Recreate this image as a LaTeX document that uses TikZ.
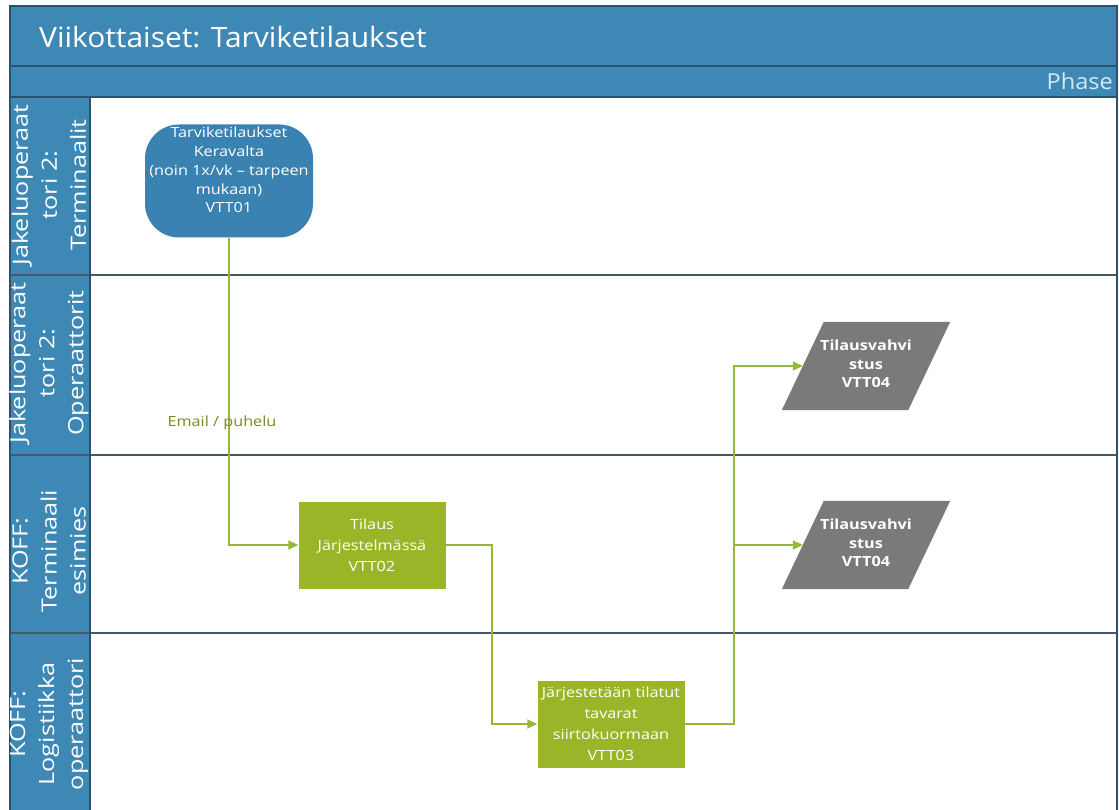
\documentclass[tikz,border=0pt]{standalone}
\usepackage{fontspec}
\setmainfont{Open Sans}
\newfontfamily\nodefont[FakeStretch=1.16]{Open Sans}
\newfontfamily\lanefont[FakeStretch=1.2]{Open Sans}
\newfontfamily\titlefont[FakeStretch=1.07]{Open Sans}
\usetikzlibrary{arrows.meta,calc}

\definecolor{hdrblue}{RGB}{62,136,182}
\definecolor{frameline}{RGB}{42,82,112}
\definecolor{laneline}{RGB}{70,88,104}
\definecolor{startblue}{RGB}{58,130,178}
\definecolor{procgreen}{RGB}{155,181,40}
\definecolor{flowgreen}{RGB}{150,184,56}
\definecolor{labelgreen}{RGB}{122,140,30}
\definecolor{datagray}{RGB}{122,122,122}
\definecolor{phasetext}{RGB}{212,232,246}

\tikzset{
  frame/.style={draw=frameline, line width=1.2pt},
  lanesep/.style={draw=laneline, line width=1.2pt},
  lanelabel/.style={rotate=90, align=center, text=white,
    font=\lanefont\fontsize{21}{29}\selectfont},
  startbox/.style={fill=startblue, rounded corners=34pt, minimum width=168pt,
    minimum height=113pt, align=center, text=white, inner sep=0pt,
    text depth=22pt, font=\nodefont\fontsize{14}{18.8}\selectfont},
  procbox/.style={fill=procgreen, minimum width=147pt, minimum height=87pt,
    align=center, text=white, inner sep=0pt,
    font=\nodefont\fontsize{14}{21}\selectfont},
  databox/.style={minimum width=168pt, minimum height=88pt, align=center,
    text=white, inner sep=0pt,
    font=\nodefont\bfseries\fontsize{14}{18.5}\selectfont},
  flow/.style={draw=flowgreen, line width=1.7pt,
    -{Triangle[length=10pt,width=9pt]}},
  plain/.style={draw=flowgreen, line width=1.7pt},
}

\newcommand{\dataslant}[1]{%
  \fill[datagray] (#1.south west) -- ([xshift=-42pt]#1.south east)
    -- (#1.north east) -- ([xshift=42pt]#1.north west) -- cycle;}

\begin{document}
\begin{tikzpicture}[x=1pt,y=-1pt]
\useasboundingbox (0,0) rectangle (1119,810);
\fill[white] (0,0) rectangle (1119,810);

% pool header: title and phase rows
\fill[hdrblue] (10,6) rectangle (1117,97);
\draw[frame] (10,66) -- (1117,66);
\node[anchor=west, text=white, font=\titlefont\fontsize{28}{32}\selectfont,
  inner sep=0pt] (title) at (39,37) {Viikottaiset: Tarviketilaukset};
\node[anchor=east, text=phasetext, font=\titlefont\fontsize{22}{24}\selectfont,
  inner sep=0pt] (phase) at (1113,81) {Phase};

% lane header column
\fill[hdrblue] (10,97) rectangle (90,810);
\foreach \yy in {275,455,633} {
  \draw[lanesep] (10,\yy) -- (1117,\yy);
}
\draw[frame] (10,97) -- (1117,97);
\draw[frame] (90,97) -- (90,810);
\draw[frame] (10,810) -- (10,6) -- (1117,6) -- (1117,810);

\node[lanelabel] (lane1) at (49,185) {Jakeluoperaat\\tori 2:\\Terminaalit};
\node[lanelabel] (lane2) at (49,363) {Jakeluoperaat\\tori 2:\\Operaattorit};
\node[lanelabel] (lane3) at (49,551) {KOFF:\\Terminaali\\esimies};
\node[lanelabel] (lane4) at (49,724) {KOFF:\\Logistiikka\\operaattori};

% process steps
\node[startbox] (start) at (229,181)
  {Tarviketilaukset\\Keravalta\\(noin 1x/vk – tarpeen\\mukaan)\\VTT01};
\node[procbox] (v2) at (372,545) {Tilaus\\Järjestelmässä\\VTT02};
\node[procbox] (v3) at (611,724)
  {Järjestetään tilatut\\tavarat\\siirtokuormaan\\VTT03};

% confirmations (data shapes)
\node[databox] (v4a) at (866,366) {};
\dataslant{v4a}
\node[databox] (v4atext) at (866,364) {Tilausvahvi\\stus\\VTT04};
\node[databox] (v4b) at (866,545) {};
\dataslant{v4b}
\node[databox] (v4btext) at (866,543) {Tilausvahvi\\stus\\VTT04};

% connectors
\draw[flow] (start.south) |- (v2.west);
\node[text=labelgreen, font=\nodefont\fontsize{14}{16}\selectfont,
  inner sep=0pt] (mail) at (222,423) {Email / puhelu};
\draw[flow] (v2.east) -| ([xshift=46pt]v2.east) |- (v3.west);
\coordinate (split) at (734,545);
\draw[plain] (v3.east) -| (split);
\draw[flow] (split) |- ([xshift=21pt]v4a.west);
\draw[flow] (split) -- ([xshift=21pt]v4b.west);
\end{tikzpicture}
\end{document}
